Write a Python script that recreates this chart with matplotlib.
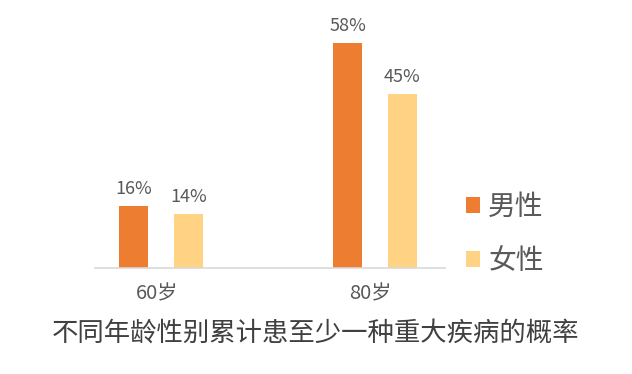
import numpy as np
import matplotlib.pyplot as plt

plt.rcParams['font.family'] = ['Noto Sans CJK SC', 'DejaVu Sans']

# 数据
ages = ['60岁', '80岁']
male = [16, 58]
female = [14, 45]
series_names = ['男性', '女性']
colors = ['#ED7D31', '#FFD284']
title = '不同年龄性别累计患至少一种重大疾病的概率'

fig = plt.figure(figsize=(6.32, 3.74), dpi=100)
ax = fig.add_axes([95 / 632, 1 - 268 / 374, 350 / 632, 240 / 374])

x = np.arange(len(ages))
w = 0.136
off = 0.128
b1 = ax.bar(x - off, male, w, color=colors[0], label=series_names[0])
b2 = ax.bar(x + off, female, w, color=colors[1], label=series_names[1])

# 数值标签
for bars, vals in ((b1, male), (b2, female)):
    for r, v in zip(bars, vals):
        ax.text(r.get_x() + r.get_width() / 2, v + 2.0, f'{v}%', ha='center', va='bottom',
                fontsize=13, color='#595959')

ax.set_xlim(-0.308, 1.327)
ax.set_ylim(0, 61.9)
ax.set_xticks(x - 0.02)
ax.set_xticklabels(ages, fontsize=14.5, color='#595959')
ax.tick_params(axis='x', length=0, pad=11)
ax.set_yticks([])
for s in ['top', 'right', 'left']:
    ax.spines[s].set_visible(False)
ax.spines['bottom'].set_color('#D9D9D9')
ax.spines['bottom'].set_linewidth(1.2)

leg = fig.legend(loc='upper left', bbox_to_anchor=(441 / 632, 1 - 167 / 374), frameon=False,
                 fontsize=20, labelcolor='#595959', handlelength=0.5, handleheight=0.5,
                 handletextpad=0.3, labelspacing=0.85)

fig.text(0.5, 1 - 333 / 374, title, ha='center', va='center', fontsize=19, color='#404040')

fig.savefig('out.png', dpi=100)
